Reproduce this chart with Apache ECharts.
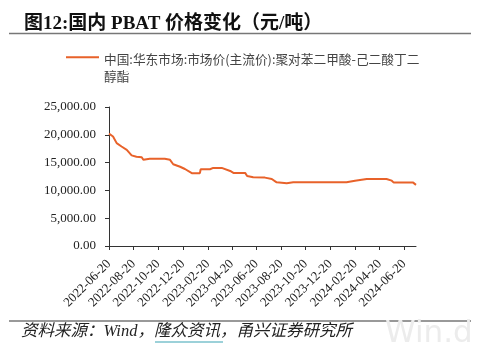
<!DOCTYPE html>
<html>
<head>
<meta charset="utf-8">
<script src="https://cdn.jsdelivr.net/npm/echarts@6/dist/echarts.min.js"></script>
<style>html,body{margin:0;padding:0;background:#fff;}#c{width:490px;height:359px;}</style>
</head>
<body>
<div id="c"></div>
<script>
var seriesName = '中国:华东市场:市场价(主流价):聚对苯二甲酸-己二酸丁二醇酯';
var dates = ['2022-06-20','2022-06-30','2022-07-09','2022-07-21','2022-08-03','2022-08-15','2022-08-27','2022-09-09','2022-09-13','2022-09-29','2022-11-05','2022-11-18','2022-11-26','2022-12-13','2022-12-25','2023-01-11','2023-01-31','2023-02-02','2023-02-25','2023-03-05','2023-03-26','2023-03-30','2023-04-16','2023-04-24','2023-05-23','2023-05-28','2023-06-12','2023-07-11','2023-07-28','2023-08-09','2023-09-03','2023-09-19','2024-01-29','2024-02-19','2024-03-19','2024-05-07','2024-05-20','2024-05-25','2024-07-12','2024-07-19'];
var prices = [20200,19700,18500,17900,17300,16300,16050,15950,15500,15700,15700,15500,14700,14250,13850,13100,13100,13800,13800,14050,14050,13800,13500,13150,13150,12600,12350,12300,12050,11450,11300,11450,11450,11750,12050,12050,11750,11400,11400,11000];
var tickDates = ['2022-06-20','2022-08-20','2022-10-20','2022-12-20','2023-02-20','2023-04-20','2023-06-20','2023-08-20','2023-10-20','2023-12-20','2024-02-20','2024-04-20','2024-06-20'];
var xMin = '2022-06-20';
var xMax = '2024-07-19';

function ts(d) { var p = d.split('-'); return Date.UTC(+p[0], +p[1] - 1, +p[2]); }
function fmt(v) {
  var dt = new Date(v);
  var m = dt.getUTCMonth() + 1, d = dt.getUTCDate();
  return dt.getUTCFullYear() + '-' + (m < 10 ? '0' : '') + m + '-' + (d < 10 ? '0' : '') + d;
}

var chart = echarts.init(document.getElementById('c'));
var serif = "'Liberation Serif','Noto Sans CJK SC',serif";
var data = dates.map(function (d, i) { return [ts(d), prices[i]]; });
var tickTs = tickDates.map(ts);

chart.setOption({
  animation: false,
  title: {
    text: '图12:国内 PBAT 价格变化（元/吨）',
    left: 19, top: 10,
    textStyle: { fontFamily: serif, fontWeight: 'bold', fontSize: 19, color: '#111' }
  },
  legend: {
    left: 61, top: 46,
    itemWidth: 33, itemHeight: 30,
    itemGap: 6,
    icon: 'path://M0,6.5H33V8.5H0Z M0,29.99H0.01V30H0Z',
    formatter: function () { return '中国:华东市场:市场价(主流价):聚对苯二甲酸-己二酸丁二\n醇酯'; },
    textStyle: { fontFamily: "'Noto Sans CJK SC',sans-serif", fontSize: 12.7, color: '#444', lineHeight: 17 }
  },
  grid: { left: 109, right: 74, top: 107, bottom: 113, containLabel: false },
  xAxis: {
    type: 'value',
    min: ts(xMin), max: ts(xMax),
    splitLine: { show: false },
    axisLine: { lineStyle: { color: '#333', width: 1 } },
    axisTick: { show: true, length: 4, customValues: tickTs, lineStyle: { color: '#333' } },
    axisLabel: {
      customValues: tickTs,
      rotate: 45, margin: 16,
      fontFamily: serif, fontSize: 13, color: '#222',
      formatter: function (v) { return fmt(v); }
    }
  },
  yAxis: {
    type: 'value',
    min: 0, max: 25000, interval: 5000,
    splitLine: { show: false },
    axisLine: { show: true, lineStyle: { color: '#333', width: 1 } },
    axisTick: { show: true, length: 4, lineStyle: { color: '#333' } },
    axisLabel: {
      margin: 13, fontFamily: serif, fontSize: 13, color: '#222',
      formatter: function (v) {
        return v.toLocaleString('en-US', { minimumFractionDigits: 2, maximumFractionDigits: 2 });
      }
    }
  },
  series: [{
    name: seriesName,
    type: 'line',
    data: data,
    showSymbol: false,
    symbol: 'none',
    lineStyle: { color: '#E8622A', width: 2 },
    itemStyle: { color: '#E8622A' }
  }],
  graphic: [
    { type: 'line', shape: { x1: 9, y1: 33.5, x2: 471, y2: 33.5 }, style: { stroke: '#777', lineWidth: 1.5 } },
    { type: 'line', shape: { x1: 9, y1: 321, x2: 471, y2: 321 }, style: { stroke: '#777', lineWidth: 1.5 } },
    { type: 'text', left: 385, top: 318, z: 0, style: { text: 'Win.d', fontFamily: "'DejaVu Sans',sans-serif", fontSize: 31, fill: '#ececec' } },
    { type: 'text', left: 21, top: 323, style: { text: '资料来源：Wind，隆众资讯，甬兴证券研究所', fontFamily: "'Liberation Serif','Noto Sans CJK SC',serif", fontStyle: 'italic', fontSize: 16.5, fill: '#222' } },
    { type: 'line', shape: { x1: 155, y1: 342, x2: 223, y2: 342 }, style: { stroke: '#3aa3b3', lineWidth: 1.2 } }
  ]
});
</script>
</body>
</html>
